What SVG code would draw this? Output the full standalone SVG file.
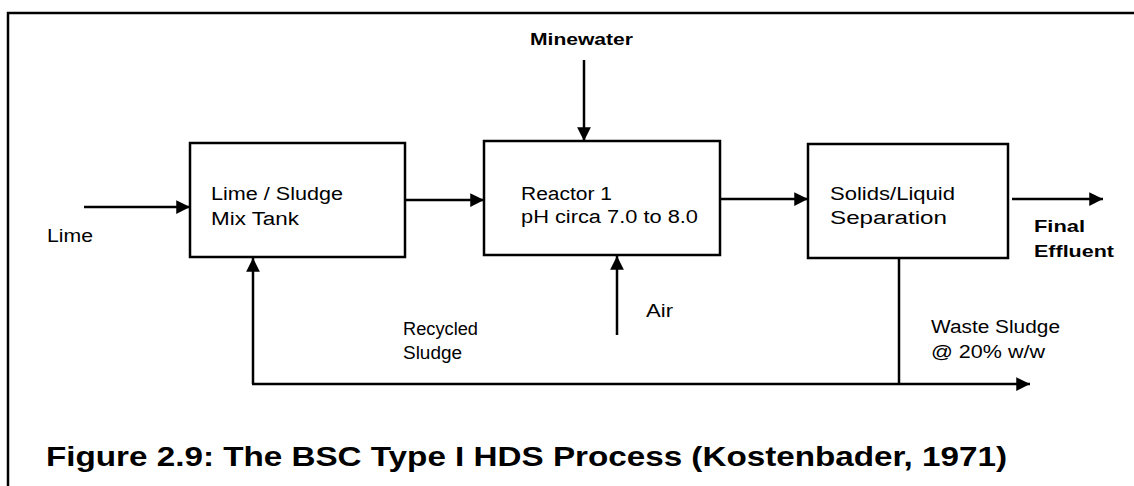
<svg xmlns="http://www.w3.org/2000/svg" width="1134" height="486" viewBox="0 0 1134 486">
<defs>
<style>
.box{fill:#fff;stroke:#000;stroke-width:2.5}
.ln{fill:none;stroke:#000;stroke-width:2.5}
.t{font-family:"Liberation Sans",Arial,sans-serif;font-size:18px;fill:#000}
.b{font-family:"Liberation Sans",Arial,sans-serif;font-size:17px;font-weight:bold;fill:#000}
.title{font-family:"Liberation Sans",Arial,sans-serif;font-size:28px;font-weight:bold;fill:#000}
</style>
<marker id="ah" viewBox="0 0 10 10" refX="10" refY="5" markerWidth="6" markerHeight="5.5" markerUnits="strokeWidth" orient="auto">
<path d="M0,0 L10,5 L0,10 Z" fill="#000"/>
</marker>
</defs>
<rect width="1134" height="486" fill="#fff"/>
<path class="ln" d="M8,486 V13 H1134"/>
<g id="connectors">
<line class="ln" x1="84" y1="207" x2="190" y2="207" marker-end="url(#ah)"/>
<line class="ln" x1="405" y1="200" x2="484" y2="200" marker-end="url(#ah)"/>
<line class="ln" x1="584" y1="60" x2="584" y2="141" marker-end="url(#ah)"/>
<line class="ln" x1="720" y1="199" x2="808" y2="199" marker-end="url(#ah)"/>
<line class="ln" x1="1012" y1="199" x2="1103" y2="199" marker-end="url(#ah)"/>
<line class="ln" x1="617" y1="335" x2="617" y2="256" marker-end="url(#ah)"/>
<path class="ln" d="M899,258 V384"/>
<path class="ln" d="M253,384 V258" marker-end="url(#ah)"/>
<line class="ln" x1="252" y1="384" x2="1030" y2="384" marker-end="url(#ah)"/>
</g>
<g id="mix-tank">
<rect class="box" x="190" y="143" width="215" height="114"/>
<text class="t" x="211" y="200" textLength="132" lengthAdjust="spacingAndGlyphs">Lime / Sludge</text>
<text class="t" x="211" y="225" textLength="88" lengthAdjust="spacingAndGlyphs">Mix Tank</text>
</g>
<g id="reactor">
<rect class="box" x="484" y="141" width="236" height="114"/>
<text class="t" x="521" y="200" textLength="91" lengthAdjust="spacingAndGlyphs">Reactor 1</text>
<text class="t" x="521" y="223" textLength="177" lengthAdjust="spacingAndGlyphs">pH circa 7.0 to 8.0</text>
</g>
<g id="separation">
<rect class="box" x="808" y="144" width="200" height="114"/>
<text class="t" x="830" y="200" textLength="125" lengthAdjust="spacingAndGlyphs">Solids/Liquid</text>
<text class="t" x="830" y="224" textLength="117" lengthAdjust="spacingAndGlyphs">Separation</text>
</g>
<g id="labels">
<text class="t" x="47" y="242" textLength="46" lengthAdjust="spacingAndGlyphs">Lime</text>
<text class="b" x="530" y="45" textLength="103" lengthAdjust="spacingAndGlyphs">Minewater</text>
<text class="b" x="1034" y="232" textLength="51" lengthAdjust="spacingAndGlyphs">Final</text>
<text class="b" x="1034" y="257" textLength="80" lengthAdjust="spacingAndGlyphs">Effluent</text>
<text class="t" x="646" y="317" textLength="27" lengthAdjust="spacingAndGlyphs">Air</text>
<text class="t" x="403" y="335" textLength="75" lengthAdjust="spacingAndGlyphs">Recycled</text>
<text class="t" x="403" y="359" textLength="59" lengthAdjust="spacingAndGlyphs">Sludge</text>
<text class="t" x="931" y="333" textLength="129" lengthAdjust="spacingAndGlyphs">Waste Sludge</text>
<text class="t" x="931" y="358" textLength="114" lengthAdjust="spacingAndGlyphs">@ 20% w/w</text>
</g>
<text class="title" x="46" y="466" textLength="961" lengthAdjust="spacingAndGlyphs">Figure 2.9: The BSC Type I HDS Process (Kostenbader, 1971)</text>
</svg>
